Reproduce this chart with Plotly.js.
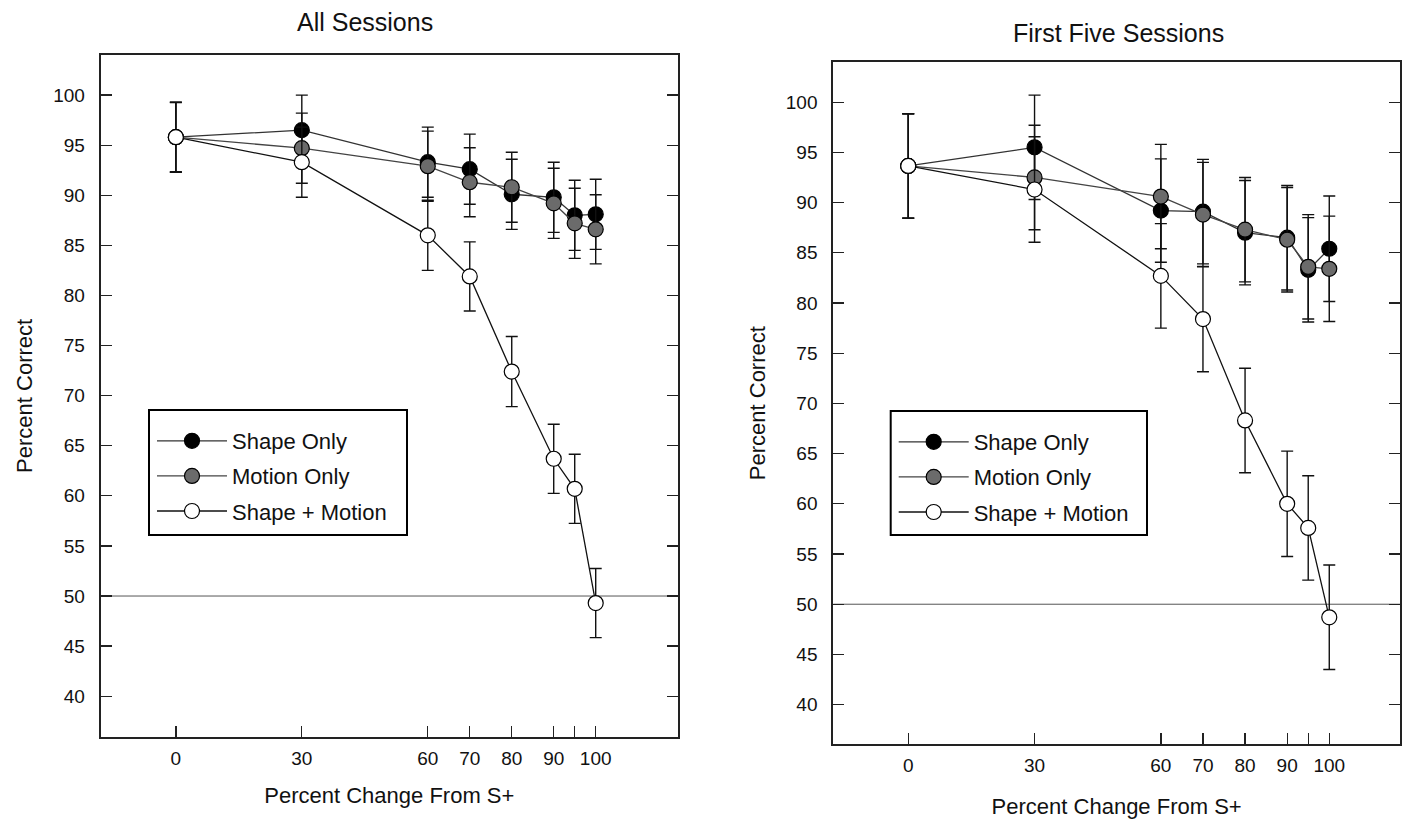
<!DOCTYPE html>
<html>
<head>
<meta charset="utf-8">
<script src="https://cdn.plot.ly/plotly-3.0.1.min.js"></script>
<style>html,body{margin:0;padding:0;background:#fff;}#chart{width:1418px;height:822px;}</style>
</head>
<body>
<div id="chart"></div>
<script>
// ---- data ----
const xValues = [0, 30, 60, 70, 80, 90, 95, 100];
const xTickVals = [0, 30, 60, 70, 80, 90, 95, 100];
const xTickText = ['0', '30', '60', '70', '80', '90', '', '100'];
const yTickVals = [40, 45, 50, 55, 60, 65, 70, 75, 80, 85, 90, 95, 100];
const seriesNames = ['Shape Only', 'Motion Only', 'Shape + Motion'];
const panelTitles = ['All Sessions', 'First Five Sessions'];
const xTitle = 'Percent Change From S+';
const yTitle = 'Percent Correct';
const chanceLevel = 50;

// All Sessions
const allShape      = [95.8, 96.5, 93.3, 92.6, 90.1, 89.8, 88.0, 88.1];
const allShapeErr   = [3.5, 3.5, 3.5, 3.5, 3.5, 3.5, 3.5, 3.5];
const allMotion     = [95.8, 94.7, 92.9, 91.3, 90.8, 89.2, 87.2, 86.6];
const allMotionErr  = [3.5, 3.5, 3.5, 3.45, 3.5, 3.5, 3.5, 3.45];
const allBoth       = [95.8, 93.3, 86.0, 81.9, 72.4, 63.7, 60.7, 49.3];
const allBothErr    = [3.45, 3.5, 3.5, 3.45, 3.5, 3.45, 3.45, 3.45];

// First Five Sessions
const ffShape       = [93.65, 95.5, 89.2, 89.1, 87.0, 86.5, 83.3, 85.4];
const ffShapeErr    = [5.2, 5.2, 5.15, 5.2, 5.2, 5.2, 5.2, 5.25];
const ffMotion      = [93.65, 92.5, 90.6, 88.8, 87.3, 86.3, 83.6, 83.4];
const ffMotionErr   = [5.2, 5.2, 5.2, 5.2, 5.2, 5.2, 5.2, 5.25];
const ffBoth        = [93.65, 91.3, 82.7, 78.4, 68.3, 60.0, 57.6, 48.7];
const ffBothErr     = [5.2, 5.25, 5.2, 5.25, 5.2, 5.25, 5.2, 5.2];

// ---- styles ----
const FONT = 'Liberation Sans, Arial, Helvetica, sans-serif';
const fills = ['#000000', '#6b6b6b', '#ffffff'];
const lineColors = ['#333333', '#444444', '#111111'];

function makeTrace(name, idx, y, err, xa, ya, legendName) {
  return {
    type: 'scatter', mode: 'lines+markers', name: name,
    x: xValues, y: y, xaxis: xa, yaxis: ya,
    legend: legendName, legendgroup: legendName + idx,
    line: {color: lineColors[idx], width: 1.3},
    marker: {size: 15, color: fills[idx], line: {color: '#000', width: 1.2}},
    error_y: {type: 'data', array: err, visible: true, color: '#111', thickness: 1.4, width: 6},
    cliponaxis: false
  };
}

const traces = [
  makeTrace(seriesNames[0], 0, allShape, allShapeErr, 'x', 'y', 'legend'),
  makeTrace(seriesNames[1], 1, allMotion, allMotionErr, 'x', 'y', 'legend'),
  makeTrace(seriesNames[2], 2, allBoth, allBothErr, 'x', 'y', 'legend'),
  makeTrace(seriesNames[0], 0, ffShape, ffShapeErr, 'x2', 'y2', 'legend2'),
  makeTrace(seriesNames[1], 1, ffMotion, ffMotionErr, 'x2', 'y2', 'legend2'),
  makeTrace(seriesNames[2], 2, ffBoth, ffBothErr, 'x2', 'y2', 'legend2')
];

function xAxis(domain, range, anchor, standoff) {
  return {
    domain: domain, range: range, anchor: anchor,
    tickvals: xTickVals, ticktext: xTickText,
    ticks: 'inside', ticklen: 11, tickwidth: 1.3, tickcolor: '#222',
    showline: true, linecolor: '#222', linewidth: 2, mirror: true,
    showgrid: false, zeroline: false,
    tickfont: {family: FONT, size: 19, color: '#111'},
    ticklabelstandoff: 3,
    title: {text: xTitle, font: {family: FONT, size: 22, color: '#111'}, standoff: standoff}
  };
}
function yAxis(domain, range, anchor) {
  return {
    domain: domain, range: range, anchor: anchor,
    tickvals: yTickVals,
    ticks: 'inside', ticklen: 11, tickwidth: 1.3, tickcolor: '#222',
    showline: true, linecolor: '#222', linewidth: 2, mirror: 'ticks',
    showgrid: false, zeroline: false,
    tickfont: {family: FONT, size: 19, color: '#111'},
    ticklabelstandoff: 10,
    title: {text: yTitle, font: {family: FONT, size: 22, color: '#111'}, standoff: 14}
  };
}

const W = 1418, H = 822;
const legendStyle = (boxLeft, top) => ({
  x: (boxLeft + 3) / W, y: 1 - top / H, xanchor: 'left', yanchor: 'top', xref: 'paper', yref: 'paper',
  bgcolor: 'rgba(0,0,0,0)', borderwidth: 0,
  font: {family: FONT, size: 22, color: '#111'},
  traceorder: 'grouped', tracegroupgap: 3.5, itemwidth: 70
});

const layout = {
  width: W, height: H, autosize: false,
  margin: {l: 0, r: 0, t: 0, b: 0},
  paper_bgcolor: '#fff', plot_bgcolor: '#fff',
  showlegend: true,
  font: {family: FONT, color: '#111'},
  xaxis: xAxis([100.7 / W, 678 / W], [-17.9, 119.6], 'y', 20),
  yaxis: yAxis([1 - 736.7 / H, 1 - 55 / H], [35.96, 104.0], 'x'),
  xaxis2: xAxis([833.3 / W, 1400 / W], [-17.8, 116.8], 'y2', 24),
  yaxis2: yAxis([1 - 744.3 / H, 1 - 62 / H], [36.05, 104.0], 'x2'),
  legend: legendStyle(149, 420),
  legend2: legendStyle(890.7, 421),
  shapes: [
    {type: 'line', xref: 'x domain', yref: 'y', x0: 0, x1: 1, y0: chanceLevel, y1: chanceLevel, line: {color: '#555', width: 1}, layer: 'below'},
    {type: 'line', xref: 'x2 domain', yref: 'y2', x0: 0, x1: 1, y0: chanceLevel, y1: chanceLevel, line: {color: '#555', width: 1}, layer: 'below'},
    {type: 'rect', xref: 'paper', yref: 'paper', x0: 149 / W, x1: 407 / W, y0: 1 - 535 / H, y1: 1 - 410 / H, line: {color: '#000', width: 2}, fillcolor: '#fff', layer: 'below'},
    {type: 'rect', xref: 'paper', yref: 'paper', x0: 890.7 / W, x1: 1147 / W, y0: 1 - 535 / H, y1: 1 - 411 / H, line: {color: '#000', width: 2}, fillcolor: '#fff', layer: 'below'}
  ],
  annotations: [
    {text: panelTitles[0], xref: 'paper', yref: 'paper', x: 365 / W, y: 1 - 22 / H, xanchor: 'center', yanchor: 'middle', showarrow: false, font: {family: FONT, size: 25, color: '#111'}},
    {text: panelTitles[1], xref: 'paper', yref: 'paper', x: 1118 / W, y: 1 - 33 / H, xanchor: 'center', yanchor: 'middle', showarrow: false, font: {family: FONT, size: 25, color: '#111'}}
  ]
};

Plotly.newPlot('chart', traces, layout, {staticPlot: true, displayModeBar: false});
</script>
</body>
</html>
